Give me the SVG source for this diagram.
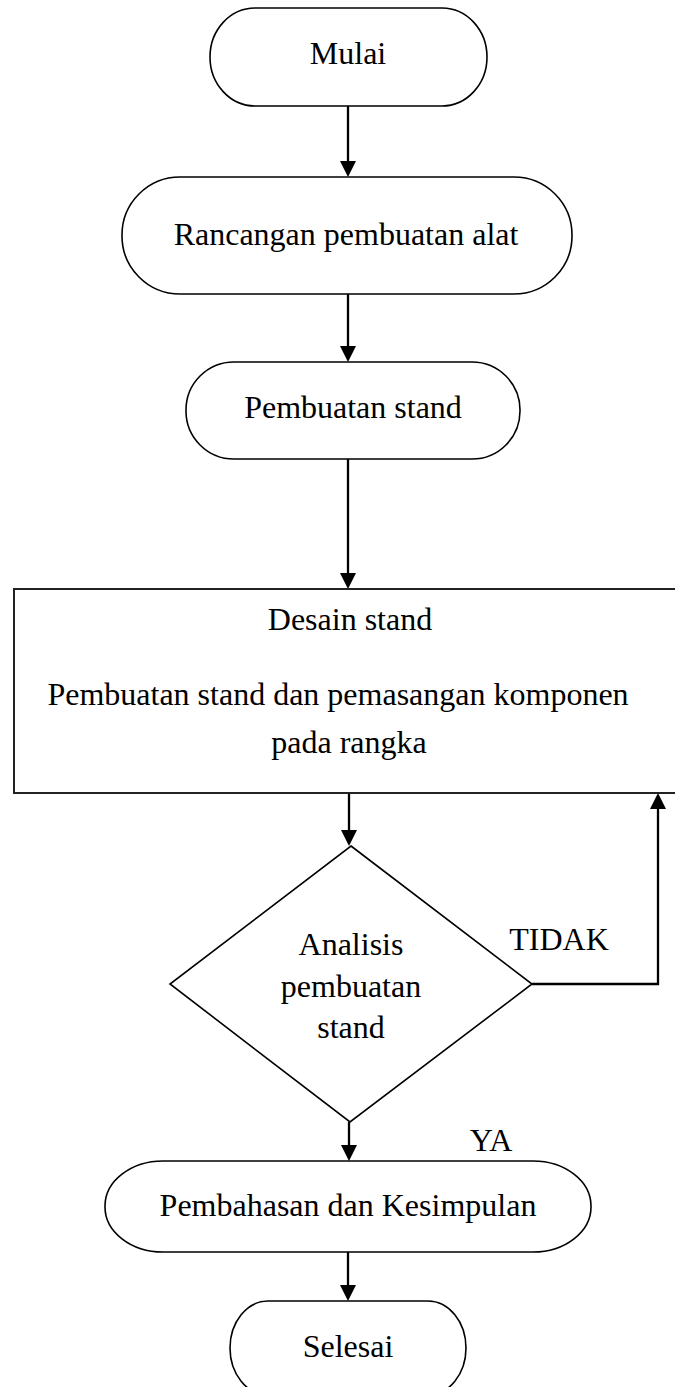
<svg xmlns="http://www.w3.org/2000/svg" width="675" height="1387" viewBox="0 0 675 1387">
  <defs>
    <style>
      .shape { fill: #ffffff; stroke: #000000; stroke-width: 1.6; }
      .box { fill: #ffffff; stroke: #222222; stroke-width: 2; }
      .lbl { font-family: "Liberation Serif", "Times New Roman", serif; font-size: 32px; fill: #000000; text-anchor: middle; }
      .edge { fill: none; stroke: #000000; stroke-width: 2.3; }
    </style>
    <marker id="arrow" viewBox="0 0 16 16" refX="2" refY="8" markerWidth="16" markerHeight="16" markerUnits="userSpaceOnUse" orient="auto">
      <path d="M0,0 L16,8 L0,16 z" fill="#000000"/>
    </marker>
  </defs>
  <rect width="675" height="1387" fill="#ffffff"/>

  <g id="connectors">
    <line class="edge" x1="348" y1="106" x2="348" y2="163" marker-end="url(#arrow)"/>
    <line class="edge" x1="348" y1="294" x2="348" y2="348" marker-end="url(#arrow)"/>
    <line class="edge" x1="348" y1="459" x2="348" y2="575" marker-end="url(#arrow)"/>
    <line class="edge" x1="349" y1="793" x2="349" y2="832" marker-end="url(#arrow)"/>
    <polyline class="edge" points="532,984 658,984 658,807" marker-end="url(#arrow)"/>
    <line class="edge" x1="349" y1="1122" x2="349" y2="1147" marker-end="url(#arrow)"/>
    <line class="edge" x1="348" y1="1252" x2="348" y2="1287" marker-end="url(#arrow)"/>
  </g>

  <g id="node-mulai">
    <rect class="shape" x="210" y="8" width="277" height="98" rx="45" ry="49"/>
    <text class="lbl" x="348" y="64">Mulai</text>
  </g>

  <g id="node-rancangan">
    <rect class="shape" x="122" y="177" width="450" height="117" rx="58" ry="58"/>
    <text class="lbl" x="346" y="245">Rancangan pembuatan alat</text>
  </g>

  <g id="node-pembuatan">
    <rect class="shape" x="186" y="362" width="334" height="97" rx="48" ry="48"/>
    <text class="lbl" x="353" y="418">Pembuatan stand</text>
  </g>

  <g id="node-desain">
    <rect class="box" x="14" y="589" width="690" height="204"/>
    <text class="lbl" x="350" y="630">Desain stand</text>
    <text class="lbl" x="338" y="705">Pembuatan stand dan pemasangan komponen</text>
    <text class="lbl" x="349" y="753">pada rangka</text>
  </g>

  <g id="node-analisis">
    <polygon class="shape" points="351,846 532,984 350,1122 170,984"/>
    <text class="lbl" x="351" y="955">Analisis</text>
    <text class="lbl" x="351" y="997">pembuatan</text>
    <text class="lbl" x="351" y="1038">stand</text>
  </g>

  <g id="label-tidak">
    <text class="lbl" x="559" y="950">TIDAK</text>
  </g>

  <g id="label-ya">
    <text class="lbl" x="491" y="1151">YA</text>
  </g>

  <g id="node-pembahasan">
    <rect class="shape" x="105" y="1161" width="486" height="91" rx="58" ry="45"/>
    <text class="lbl" x="348" y="1216">Pembahasan dan Kesimpulan</text>
  </g>

  <g id="node-selesai">
    <rect class="shape" x="230" y="1301" width="236" height="94" rx="38" ry="47"/>
    <text class="lbl" x="348" y="1357">Selesai</text>
  </g>
</svg>
